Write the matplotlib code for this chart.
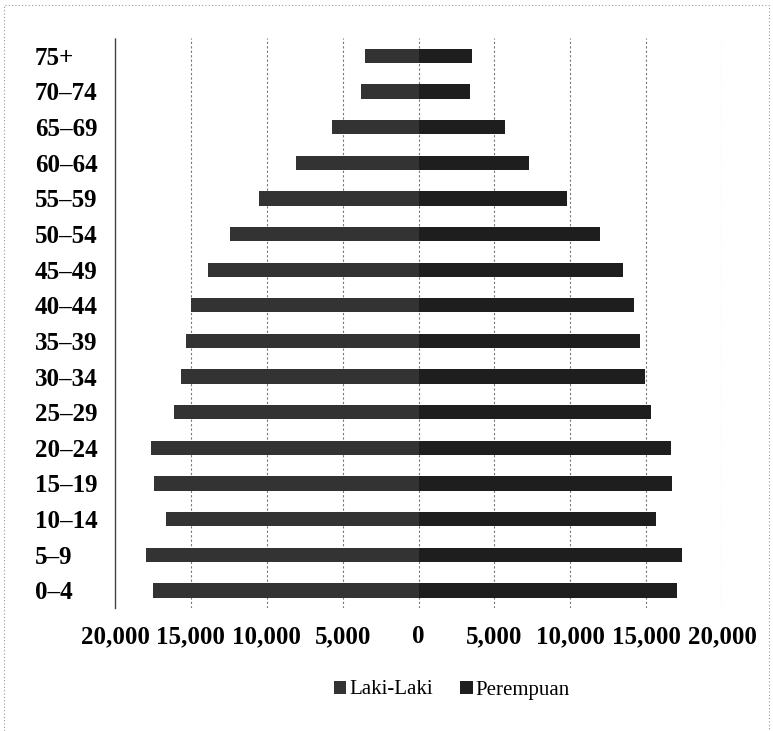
import numpy as np
import matplotlib
matplotlib.use("Agg")
import matplotlib.pyplot as plt
from matplotlib.ticker import FuncFormatter

# age groups, bottom to top
ages = ["0–4", "5–9", "10–14", "15–19", "20–24", "25–29", "30–34", "35–39",
        "40–44", "45–49", "50–54", "55–59", "60–64", "65–69", "70–74", "75+"]
laki = [17520, 17980, 16670, 17450, 17650, 16140, 15680, 15350,
        14960, 13900, 12400, 10500, 8070, 5710, 3800, 3540]
perempuan = [17060, 17390, 15680, 16730, 16670, 15290, 14900, 14630,
             14170, 13450, 11940, 9780, 7280, 5710, 3410, 3540]
xticks = [-20000, -15000, -10000, -5000, 0, 5000, 10000, 15000, 20000]

plt.rcParams['font.family'] = ['Liberation Serif', 'DejaVu Serif']

fig = plt.figure(figsize=(7.73, 7.31), dpi=100)
ax = fig.add_axes([0.1488, 0.168, 0.934 - 0.1488, 0.948 - 0.168])

y = np.arange(len(ages))
ax.barh(y, -np.array(laki), height=0.4, color="#333333", label="Laki-Laki", zorder=3)
ax.barh(y, perempuan, height=0.4, color="#1e1e1e", label="Perempuan", zorder=3)

ax.set_xlim(-20000, 20000)
ax.set_ylim(-0.5, len(ages) - 0.5)
ax.set_xticks(xticks)
ax.xaxis.set_major_formatter(FuncFormatter(lambda v, p: f"{abs(int(v)):,}"))
ax.set_yticks(y)
ax.set_yticklabels(ages, ha="left", fontweight="bold")
for lab in ax.get_xticklabels():
    lab.set_fontweight("bold")
ax.tick_params(axis="y", length=0, pad=57.6, labelsize=18)
ax.tick_params(axis="x", length=0, pad=12, labelsize=18)

for x in xticks[1:]:
    ax.axvline(x, color="#777777", lw=0.8, ls=(0, (2, 2)), zorder=1)

for s in ["top", "right", "bottom"]:
    ax.spines[s].set_visible(False)
ax.spines["left"].set_color("#444444")
ax.spines["left"].set_linestyle((0, (2, 1)))
ax.spines["left"].set_linewidth(1.0)

fig.legend(loc="center", bbox_to_anchor=(452 / 773, 1 - 690 / 731), ncol=2,
           frameon=False, fontsize=15, handlelength=0.6, handleheight=0.6,
           handletextpad=0.15, columnspacing=1.3)

# dotted border of the scanned chart area
fig.add_artist(plt.Rectangle((0.005, -0.01), 0.99, 1.003, transform=fig.transFigure,
                             fill=False, ec="#999999", lw=0.8, ls=(0, (1, 2))))

fig.savefig("out.png", dpi=100)
